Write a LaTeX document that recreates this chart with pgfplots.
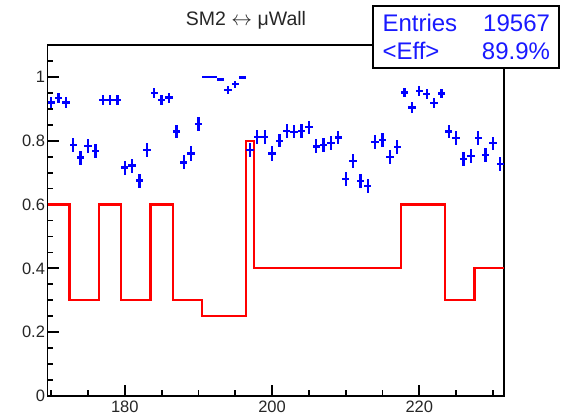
\documentclass[border=0pt]{standalone}
\usepackage{pgfplots}
\pgfplotsset{compat=1.18}
\usepackage{pgfplotstable}
\usepackage{fontspec}
\setmainfont{Liberation Sans}

\pgfplotstableread{
x y ey
170 0.920 0.016
171 0.933 0.016
172 0.920 0.016
173 0.786 0.022
174 0.747 0.022
175 0.784 0.022
176 0.768 0.022
177 0.928 0.016
178 0.928 0.016
179 0.928 0.016
180 0.716 0.022
181 0.722 0.022
182 0.675 0.022
183 0.770 0.022
184 0.949 0.015
185 0.928 0.016
186 0.935 0.016
187 0.829 0.021
188 0.732 0.022
189 0.760 0.022
190 0.852 0.021
191 1.000 0.002
192 1.000 0.002
193 0.992 0.004
194 0.958 0.013
195 0.977 0.011
196 0.998 0.002
197 0.772 0.022
198 0.812 0.021
199 0.812 0.021
200 0.760 0.022
201 0.800 0.021
202 0.831 0.021
203 0.828 0.021
204 0.831 0.021
205 0.842 0.021
206 0.782 0.022
207 0.786 0.022
208 0.793 0.022
209 0.810 0.021
210 0.680 0.022
211 0.737 0.022
212 0.673 0.022
213 0.659 0.022
214 0.795 0.022
215 0.802 0.021
216 0.748 0.022
217 0.781 0.022
218 0.951 0.015
219 0.904 0.016
220 0.956 0.015
221 0.947 0.015
222 0.918 0.016
223 0.948 0.015
224 0.829 0.021
225 0.809 0.021
226 0.742 0.022
227 0.752 0.022
228 0.809 0.021
229 0.756 0.022
230 0.792 0.021
231 0.727 0.022
}\efftable

\pgfplotstableread{
x y
169.5 0.60
172.5 0.30
176.5 0.60
179.5 0.30
183.5 0.60
186.5 0.30
190.5 0.25
196.5 0.80
197.5 0.40
217.5 0.60
223.5 0.30
227.5 0.40
231.5 0.40
}\redtable

\begin{document}
\begin{tikzpicture}
\path[use as bounding box] (0pt,0pt) rectangle (570pt,417pt);
\begin{axis}[
  at={(47.5pt,21pt)}, anchor=south west,
  scale only axis, width=456.5pt, height=351pt,
  xmin=169.5, xmax=231.5, ymin=0, ymax=1.1,
  axis line style={line width=1.8pt, black},
  xtick={180,200,220},
  minor xtick={170,175,185,190,195,205,210,215,225,230},
  ytick={0,0.2,0.4,0.6,0.8,1},
  minor ytick={0.05,0.1,0.15,0.25,0.3,0.35,0.45,0.5,0.55,0.65,0.7,0.75,0.85,0.9,0.95,1.05},
  tick pos=left, tick align=inside,
  major tick length=11pt, minor tick length=5.5pt,
  every tick/.style={line width=1.8pt, black},
  ticklabel style={font=\fontsize{16.5}{18}\selectfont, text=black!85},
  /pgf/number format/assume math mode=true,
  yticklabel style={xshift=1pt},
  xticklabel style={yshift=-1pt},
  clip=false,
]
\addplot[red, line width=2.2pt, const plot, mark=none] table[x=x, y=y] {\redtable};
\addplot[draw=none, mark=none,
  error bars/.cd, x dir=both, x fixed=0.5, y dir=both, y explicit,
  error mark=none, error bar style={draw=blue, line width=2.3pt}]
  table[x=x, y=y, y error=ey] {\efftable};
\end{axis}
\node[anchor=base, font=\fontsize{19.5}{22}\selectfont, text=black!85] at (246pt,391pt) {SM2 $\leftrightarrow$ μWall};
\draw[line width=1.8pt, fill=white] (372.7pt,348.7pt) rectangle (559.3pt,411pt);
\node[anchor=base west, font=\fontsize{24}{28}\selectfont, text=blue!90!white] at (379pt,385.3pt) {Entries};
\node[anchor=base east, font=\fontsize{24}{28}\selectfont, text=blue!90!white] at (553.5pt,385.3pt) {19567};
\node[anchor=base west, font=\fontsize{24}{28}\selectfont, text=blue!90!white] at (379pt,357.7pt) {<Eff>};
\node[anchor=base east, font=\fontsize{24}{28}\selectfont, text=blue!90!white] at (553.5pt,357.7pt) {89.9\%};
\end{tikzpicture}
\end{document}
